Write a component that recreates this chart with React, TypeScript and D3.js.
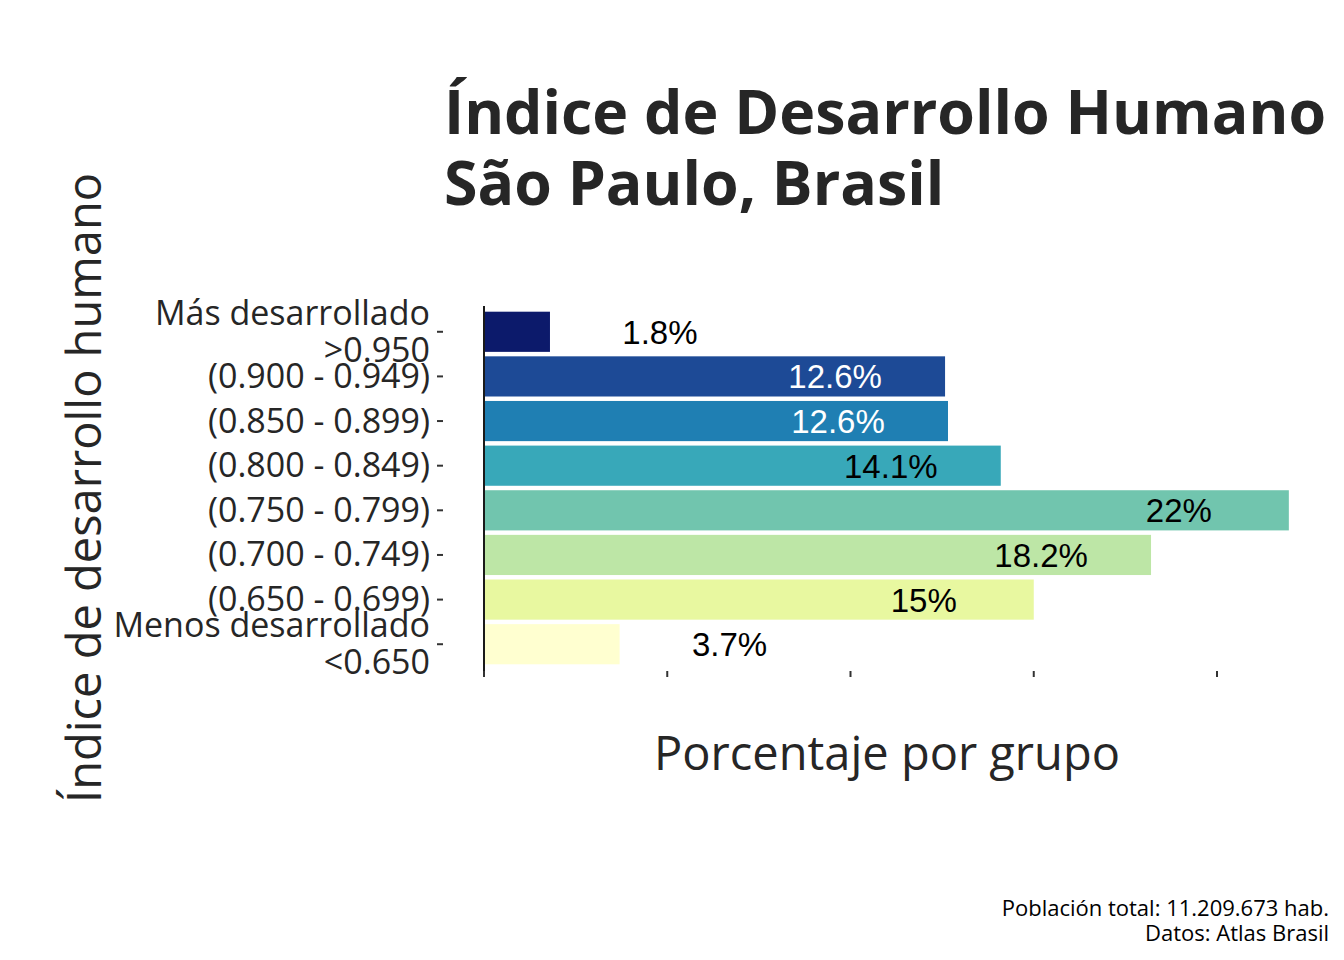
import * as d3 from "d3";

// IDH groups, São Paulo
const categories = [
    "Más desarrollado\n>0.950",
    "(0.900 - 0.949)",
    "(0.850 - 0.899)",
    "(0.800 - 0.849)",
    "(0.750 - 0.799)",
    "(0.700 - 0.749)",
    "(0.650 - 0.699)",
    "Menos desarrollado\n<0.650",
];
const shares = [1.8, 12.58, 12.66, 14.1, 21.96, 18.2, 15.0, 3.7];
const shareLabels = ["1.8%", "12.6%", "12.6%", "14.1%", "22%", "18.2%", "15%", "3.7%"];
const fills = ["#0c1a6b", "#1d4a96", "#1f7fb3", "#38a8b9", "#71c5ae", "#bde6a6", "#e8f8a0", "#ffffd0"];
const labelColors = ["#000", "#fff", "#fff", "#000", "#000", "#000", "#000", "#000"];
const xTicks = [0, 5, 10, 15, 20];

const titleLines = ["Índice de Desarrollo Humano", "São Paulo, Brasil"];
const captionLines = ["Población total: 11.209.673 hab.", "Datos: Atlas Brasil"];

const width = 1344;
const height = 960;
const font = "'Open Sans', 'Noto Sans', sans-serif";
const ink = "#262626";

export default function App() {
    //----------------------------
    // Scales
    //----------------------------
    const x = d3.scaleLinear().domain([0, 20]).range([484, 1217]);
    const y = d3
        .scaleBand<string>()
        .domain(categories)
        .range([305, 671])
        .paddingInner(0.1)
        .paddingOuter(0.15);

    return (
        <svg width={width} height={height} style={{ position: "absolute", left: 0, top: 0, background: "#fff" }}>
            {/* title */}
            {titleLines.map((t, i) => (
                <text key={t} x={444} y={134 + i * 71} fontFamily={font} fontWeight={700} fontSize={60.8} fill={ink}>
                    {t}
                </text>
            ))}

            {/* bars */}
            <g>
                {categories.map((c, i) => (
                    <rect
                        key={c}
                        x={x(0) + 1}
                        y={y(c)}
                        width={x(shares[i]) - x(0) - 1}
                        height={y.bandwidth()}
                        fill={fills[i]}
                    />
                ))}
            </g>

            {/* value labels: inside the bar for long bars, outside for short */}
            <g fontFamily="'Liberation Sans', Arial, sans-serif" fontSize={33} textAnchor="middle">
                {categories.map((c, i) => {
                    const v = shares[i];
                    const lx = v > 5 ? x(v - 3) : x(v + 3);
                    return (
                        <text key={c} x={lx} y={(y(c) ?? 0) + y.bandwidth() / 2 + 12} fill={labelColors[i]}>
                            {shareLabels[i]}
                        </text>
                    );
                })}
            </g>

            {/* y axis line */}
            <line x1={484} x2={484} y1={306} y2={677} stroke="#1a1a1a" strokeWidth={2} />

            {/* x ticks (no labels) */}
            <g stroke="#333" strokeWidth={2}>
                {xTicks.map((t) => (
                    <line key={t} x1={x(t)} x2={x(t)} y1={671} y2={677} />
                ))}
            </g>

            {/* y ticks + labels */}
            <g fontFamily={font} fontSize={34} fill={ink} textAnchor="end">
                {categories.map((c) => {
                    const cy = (y(c) ?? 0) + y.bandwidth() / 2;
                    const lines = c.split("\n");
                    return (
                        <g key={c}>
                            <line x1={437} x2={443} y1={cy} y2={cy} stroke="#333" strokeWidth={2} />
                            {lines.map((l, j) => (
                                <text key={l} x={430} y={cy + 11.5 + (j - (lines.length - 1) / 2) * 37}>
                                    {l}
                                </text>
                            ))}
                        </g>
                    );
                })}
            </g>

            {/* axis titles */}
            <text x={887} y={770} fontFamily={font} fontSize={47} fill={ink} textAnchor="middle">
                Porcentaje por grupo
            </text>
            <text
                transform="translate(101,488) rotate(-90)"
                fontFamily={font}
                fontSize={47}
                fill={ink}
                textAnchor="middle"
            >
                Índice de desarrollo humano
            </text>

            {/* caption */}
            {captionLines.map((t, i) => (
                <text key={t} x={1329} y={916 + i * 25} fontFamily={font} fontSize={22} fill="#000" textAnchor="end">
                    {t}
                </text>
            ))}
        </svg>
    );
}
